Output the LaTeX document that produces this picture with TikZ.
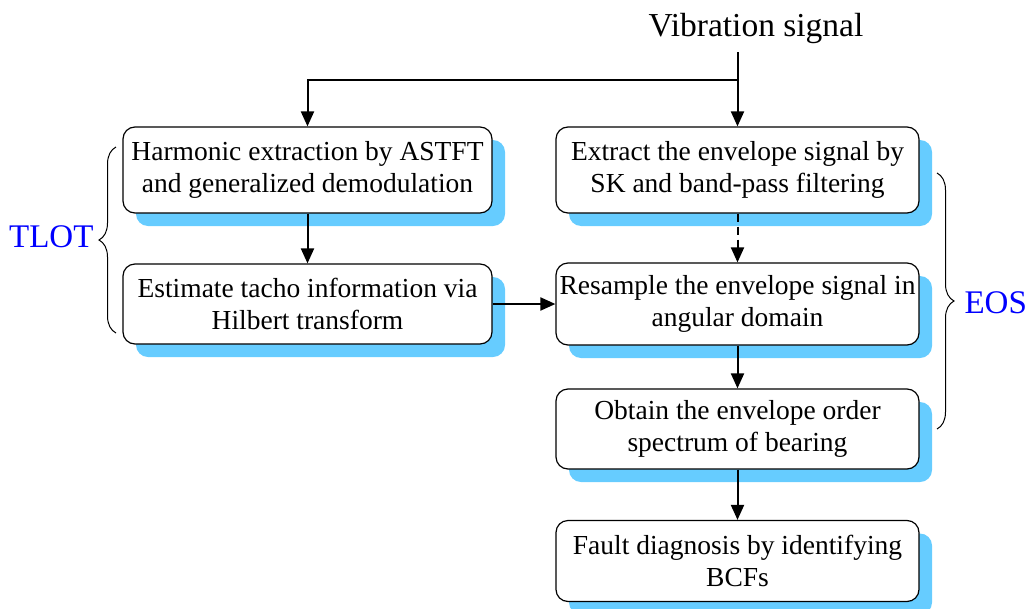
\documentclass[tikz,border=0pt]{standalone}
\usepackage{fontspec}
\setmainfont{Liberation Serif}
\usetikzlibrary{shadows,arrows.meta,decorations.pathreplacing}
\definecolor{shadowblue}{RGB}{102,204,255}
\tikzset{
  box/.style={draw=black, line width=1.2pt, fill=white, rounded corners=12pt,
    align=center, inner sep=2pt,
    font=\fontsize{27.5}{32}\selectfont,
    general shadow={fill=shadowblue, shadow xshift=13pt, shadow yshift=-13pt}},
  arr/.style={line width=2pt, -{Triangle[length=15pt,width=13pt]}},
  lbl/.style={text=blue, font=\fontsize{33}{38}\selectfont},
  brc/.style={line width=1pt, decorate, decoration={brace, amplitude=17pt}}
}
\begin{document}
\begin{tikzpicture}[x=1pt,y=-1pt]
\useasboundingbox (0,0) rectangle (1028,608);
\node[font=\fontsize{33.5}{38}\selectfont] (vib) at (756,28) {Vibration signal};
\node[box, minimum width=369pt, minimum height=86pt] (A) at (307.5,170) {Harmonic extraction by ASTFT\\and generalized demodulation};
\node[box, minimum width=363pt, minimum height=86pt] (B) at (737.5,170) {Extract the envelope signal by\\SK and band-pass filtering};
\node[box, minimum width=369pt, minimum height=80pt] (C) at (307.5,304) {Estimate tacho information via\\Hilbert transform};
\node[box, minimum width=363pt, minimum height=82pt] (D) at (737.5,304) {Resample the envelope signal in\\angular domain};
\node[box, minimum width=363pt, minimum height=80pt] (E) at (737.5,429) {Obtain the envelope order\\spectrum of bearing};
\node[box, minimum width=363pt, minimum height=81pt] (F) at (737.5,561) {Fault diagnosis by identifying\\BCFs};
\coordinate (vtop) at (737.5,52);
\coordinate (split) at (737.5,80);
\draw[arr] (vtop) -- (B.north);
\draw[arr] (split) -- (split -| A.north) -- (A.north);
\draw[arr] (A) -- (C);
\draw[arr, dash pattern=on 8pt off 5pt] (B) -- (D);
\draw[arr] (C.east) -- (D.west);
\draw[arr] (D) -- (E);
\draw[arr] (E) -- (F);
\coordinate (t1) at (116,333);
\coordinate (t2) at (116,147);
\draw[brc] (t1) -- (t2);
\node[lbl, anchor=east] (tlot) at (97,237) {TLOT};
\coordinate (e1) at (937,173);
\coordinate (e2) at (937,429);
\draw[brc] (e1) -- (e2);
\node[lbl, anchor=west] (eos) at (961,303) {EOS};
\end{tikzpicture}
\end{document}
